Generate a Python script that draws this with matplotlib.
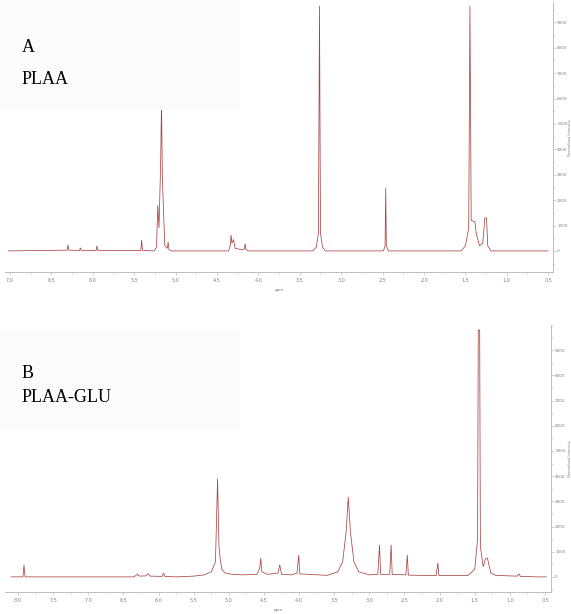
import matplotlib
matplotlib.use("Agg")
import matplotlib.pyplot as plt
import matplotlib.ticker as ticker
from matplotlib.patches import Rectangle

# ---------------------------------------------------------------------------
# Spectrum traces (ppm, intensity)
# ---------------------------------------------------------------------------
ppm_a = [7.02, 6.31, 6.30, 6.29, 6.16, 6.15, 6.14, 5.96, 5.95, 5.94,
         5.42, 5.41, 5.40, 5.26, 5.23, 5.215, 5.20, 5.18, 5.17, 5.16,
         5.145, 5.13, 5.10, 5.09, 5.08, 5.05, 4.36, 4.34, 4.33, 4.32,
         4.30, 4.28, 4.20, 4.17, 4.16, 4.15, 4.12, 3.34, 3.30, 3.275,
         3.262, 3.25, 3.225, 3.19, 2.49, 2.47, 2.462, 2.455, 2.43, 1.55,
         1.50, 1.46, 1.445, 1.43, 1.385, 1.37, 1.33, 1.29, 1.265, 1.245,
         1.23, 1.19, 0.50]
int_a = [0, 30, 240, 30, 20, 120, 20, 20, 200, 20,
         20, 430, 20, 0, 150, 1800, 900, 3500, 5950, 3000,
         1500, 200, 100, 350, 50, 0, 0, 200, 630, 300,
         450, 100, 50, 80, 280, 60, 0, 0, 150, 700,
         9650, 700, 150, 0, 0, 200, 2480, 200, 0, 0,
         200, 900, 9650, 1200, 1150, 700, 200, 300, 1300, 1300,
         200, 0, 0]

ppm_b = [8.10, 7.93, 7.915, 7.90, 6.35, 6.30, 6.27, 6.18, 6.15, 6.12,
         5.95, 5.93, 5.91, 5.75, 5.50, 5.35, 5.25, 5.19, 5.16, 5.14,
         5.12, 5.10, 5.05, 4.95, 4.80, 4.60, 4.56, 4.545, 4.53, 4.45,
         4.30, 4.275, 4.25, 4.10, 4.03, 4.005, 3.99, 3.60, 3.45, 3.38,
         3.33, 3.30, 3.27, 3.22, 3.15, 3.00, 2.88, 2.855, 2.84, 2.71,
         2.69, 2.675, 2.48, 2.46, 2.445, 2.05, 2.025, 2.01, 1.60, 1.50,
         1.46, 1.45, 1.43, 1.42, 1.38, 1.35, 1.32, 1.30, 1.27, 1.20,
         0.90, 0.87, 0.85, 0.60, 0.48]
int_b = [0, 0, 480, 0, 0, 100, 30, 40, 130, 30,
         20, 150, 20, 0, 30, 80, 200, 600, 3900, 1200,
         670, 300, 150, 100, 80, 100, 350, 750, 200, 100,
         150, 480, 100, 80, 150, 870, 120, 60, 200, 600,
         1800, 3170, 1800, 600, 200, 80, 100, 1270, 100, 100,
         1270, 100, 80, 870, 70, 50, 560, 50, 50, 300,
         1500, 9800, 9800, 1200, 400, 700, 750, 500, 150, 60,
         30, 120, 20, 0, 0]

ticks_a = [7.0, 6.5, 6.0, 5.5, 5.0, 4.5, 4.0, 3.5, 3.0, 2.5, 2.0, 1.5, 1.0, 0.5]
ticks_b = [8.0, 7.5, 7.0, 6.5, 6.0, 5.5, 5.0, 4.5, 4.0, 3.5, 3.0, 2.5, 2.0, 1.5, 1.0, 0.5]
yticks = [0, 1000, 2000, 3000, 4000, 5000, 6000, 7000, 8000, 9000]

LINE = "#a84444"
AXIS = "#bdbdbd"
TICKTXT = "#808080"

W, H = 571, 614
fig = plt.figure(figsize=(W / 100, H / 100), dpi=100)
fig.patch.set_facecolor("white")


def px(x0, y0, x1, y1):
    """pixel box (top-left origin) -> figure rect"""
    return [x0 / W, 1 - y1 / H, (x1 - x0) / W, (y1 - y0) / H]


def style(ax, ppm, inten, xlim, ylim, xt, ylab_x):
    ax.plot(ppm, inten, color=LINE, lw=0.55, solid_joinstyle="miter")
    ax.set_xlim(*xlim)
    ax.set_ylim(*ylim)
    ax.set_facecolor("none")
    for s in ["top", "left"]:
        ax.spines[s].set_visible(False)
    for s in ["bottom", "right"]:
        ax.spines[s].set_color(AXIS)
        ax.spines[s].set_linewidth(0.7)
    ax.set_xticks(xt)
    ax.xaxis.set_major_formatter(ticker.FormatStrFormatter("%.1f"))
    ax.xaxis.set_minor_locator(ticker.MultipleLocator(0.25))
    ax.yaxis.tick_right()
    ax.set_yticks(yticks)
    ax.yaxis.set_minor_locator(ticker.MultipleLocator(500))
    ax.tick_params(axis="x", which="major", labelsize=3.5, colors=AXIS,
                   labelcolor=TICKTXT, length=2, width=0.5, pad=2)
    ax.tick_params(axis="y", which="major", labelsize=3, colors=AXIS,
                   labelcolor=TICKTXT, length=2, width=0.5, pad=1)
    ax.tick_params(axis="both", which="minor", colors=AXIS, length=1.2, width=0.4)
    ax.set_xlabel("ppm", fontsize=3, color=TICKTXT, labelpad=1)
    ax.xaxis.set_label_coords(0.5, -0.06)
    ax.yaxis.set_label_position("right")
    ax.set_ylabel("Normalized Intensity", fontsize=2.5, color=TICKTXT)
    ax.yaxis.set_label_coords(ylab_x, 0.5)


# light label boxes behind the panel captions
fig.patches.append(Rectangle((0, 1 - 110 / H), 240 / W, 110 / H,
                             transform=fig.transFigure, facecolor="#fbfbfb",
                             edgecolor="none", zorder=0))
fig.patches.append(Rectangle((0, 1 - 430 / H), 240 / W, 100 / H,
                             transform=fig.transFigure, facecolor="#fbfbfb",
                             edgecolor="none", zorder=0))

ax_a = fig.add_axes(px(5, 2, 553, 272))
style(ax_a, ppm_a, int_a, (7.06, 0.442), (-830, 9800), ticks_a, 1.028)

ax_b = fig.add_axes(px(5, 325, 551, 592))
style(ax_b, ppm_b, int_b, (8.185, 0.415), (-600, 10000), ticks_b, 1.032)

serif = ["Liberation Serif", "DejaVu Serif"]
fig.text(22 / W, 1 - 47 / H, "A", family=serif, fontsize=13, va="center", ha="left")
fig.text(22 / W, 1 - 79 / H, "PLAA", family=serif, fontsize=13, va="center", ha="left")
fig.text(22 / W, 1 - 373 / H, "B", family=serif, fontsize=13, va="center", ha="left")
fig.text(22 / W, 1 - 398 / H, "PLAA-GLU", family=serif, fontsize=13, va="center", ha="left")

fig.savefig("out.png", dpi=100)
